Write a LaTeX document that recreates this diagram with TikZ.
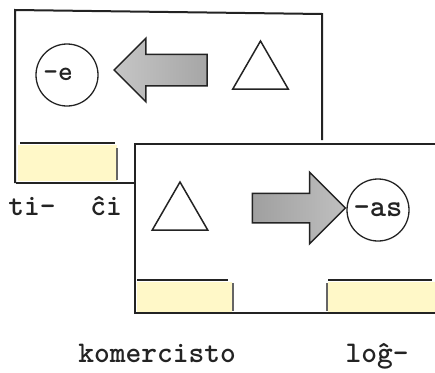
\documentclass[tikz,border=0pt]{standalone}
\usetikzlibrary{shapes.geometric,%
                shapes.arrows}
\definecolor{stripyellow}{RGB}{255,248,200}
\definecolor{ink}{RGB}{35,35,35}

\begin{document}
\begin{tikzpicture}[x=1pt,y=-1pt,
    frame/.style={draw=ink,line width=2pt},
    edgetick/.style={draw=ink!70,line width=1.6pt},
    strip/.style={fill=stripyellow},
    ring/.style={circle,draw=ink,line width=1.3pt,minimum size=62pt,inner sep=0pt},
    trig/.style={regular polygon,regular polygon sides=3,draw=ink,line width=1.5pt,
                 minimum size=64pt,inner sep=0pt},
    blockarrow/.style={single arrow,draw=ink,line width=1.5pt,minimum height=93pt,
                       minimum width=0pt,inner xsep=0pt},
    word/.style={anchor=base,text=ink,font=\ttfamily\bfseries\fontsize{30}{34}\selectfont}]
  \useasboundingbox (0,0) rectangle (435,372);

  % back card
  \fill[strip] (18,145) rectangle (117,181);
  \draw[frame] (15,183) -- (15,10) -- (322,14) -- (322,140);
  \draw[frame] (16,183) -- (135,183);
  \draw[frame] (20,143) -- (115,143);
  \draw[edgetick] (117,148) -- (117,180);

  \node[ring] (ringE) at (67,75) {};
  \node[text=ink,font=\ttfamily\bfseries\fontsize{28}{30}\selectfont] (suffixE) at (58,74) {-e};
  \node[blockarrow,shape border rotate=180,inner ysep=15pt,single arrow head extend=16pt,
        shade,left color=gray!45,right color=gray!70] (arrowBack) at (168.5,70) {};
  \node[trig] (trigBack) at (260.5,73) {};

  \node[word] (ti) at (32,215) {ti-};
  \node[word] (ci) at (106,215) {ĉi};

  % front card
  \fill[white] (135,144) rectangle (435,313);
  \fill[strip] (137,282) rectangle (232,312);
  \fill[strip] (328,282) rectangle (435,312);
  \draw[frame] (435,144) -- (135,144) -- (135,313) -- (435,313);
  \draw[frame] (137,280) -- (228,280);
  \draw[frame] (328,280) -- (432,280);
  \draw[edgetick] (233,283) -- (233,311);
  \draw[edgetick] (327,283) -- (327,311);

  \node[trig] (trigFront) at (180,214) {};
  \node[blockarrow,inner ysep=14pt,single arrow head extend=21pt,
        shade,left color=gray!75,right color=gray!50] (arrowFront) at (291.5,208) {};
  \node[ring,text=ink,font=\ttfamily\bfseries\fontsize{31}{34}\selectfont] (suffixAs) at (378,210) {-as};

  \node[word] (komercisto) at (157,362) {komercisto};
  \node[word] (log) at (377,362) {loĝ-};
\end{tikzpicture}
\end{document}
